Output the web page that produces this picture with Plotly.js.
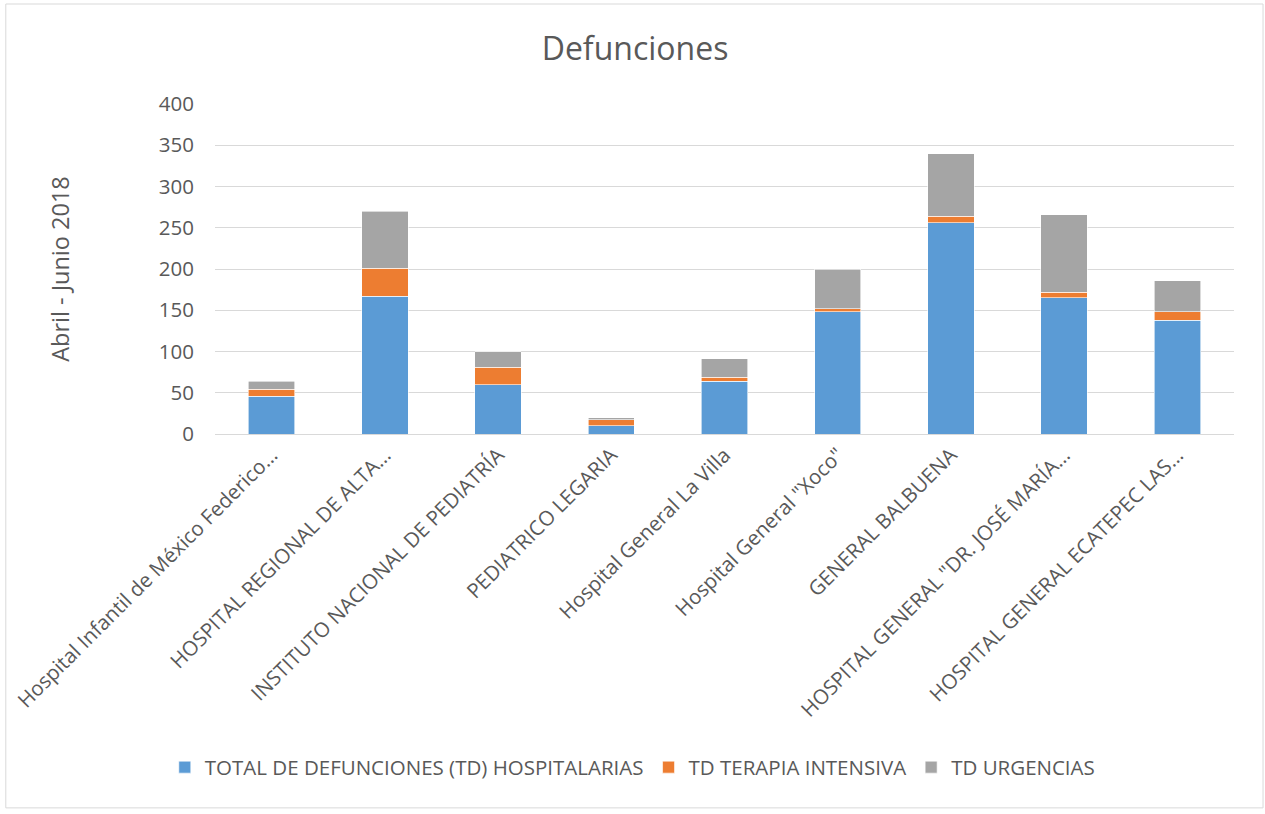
<!DOCTYPE html>
<html>
<head>
<meta charset="utf-8">
<script src="https://cdn.plot.ly/plotly-3.0.1.min.js"></script>
<style>html,body{margin:0;padding:0;background:#fff;}#chart{width:1265px;height:814px;}</style>
</head>
<body>
<div id="chart"></div>
<script>
const categories = [
  "Hospital Infantil de México Federico...",
  "HOSPITAL REGIONAL DE ALTA...",
  "INSTITUTO NACIONAL DE PEDIATRÍA",
  "PEDIATRICO LEGARIA",
  "Hospital General La Villa",
  "Hospital General \"Xoco\"",
  "GENERAL BALBUENA",
  "HOSPITAL GENERAL \"DR. JOSÉ MARÍA...",
  "HOSPITAL GENERAL ECATEPEC LAS..."
];
const totalHospitalarias = [46, 167, 60, 10, 64, 148, 256, 165, 138];
const terapiaIntensiva   = [8, 34, 21, 7, 5, 4, 8, 7, 10];
const urgencias          = [10, 69, 19, 3, 22, 48, 76, 94, 38];
const seriesNames = ["TOTAL DE DEFUNCIONES (TD) HOSPITALARIAS", "TD TERAPIA INTENSIVA", "TD URGENCIAS"];
const yTicks = [0, 50, 100, 150, 200, 250, 300, 350, 400];

const colors = ["#5B9BD5", "#ED7D31", "#A5A5A5"];
const font = "'Open Sans', Lato, sans-serif";
const data = [totalHospitalarias, terapiaIntensiva, urgencias].map((vals, i) => ({
  type: "bar",
  x: categories,
  y: vals,
  name: seriesNames[i],
  marker: {color: colors[i], line: {color: "#ffffff", width: 0.6}},
  hoverinfo: "x+y+name"
}));

const layout = {
  width: 1265, height: 814,
  barmode: "stack",
  bargap: 0.59,
  paper_bgcolor: "#fff",
  plot_bgcolor: "#fff",
  margin: {l: 215, r: 31, t: 104, b: 380},
  font: {family: font, color: "#595959"},
  title: {text: "Defunciones", font: {size: 32, color: "#595959", family: font}, x: 0.502, xanchor: "center", y: 0.94, yanchor: "middle"},
  xaxis: {
    tickangle: -45,
    tickfont: {size: 20.5, color: "#595959"},
    showline: true, linecolor: "#d9d9d9", linewidth: 1,
    ticks: "", showgrid: false, automargin: false
  },
  yaxis: {
    range: [0, 400],
    tickvals: yTicks,
    tickfont: {size: 20.5, color: "#595959"},
    showgrid: true, gridcolor: "#d9d9d9", gridwidth: 1,
    zeroline: false, showline: false, ticks: "",
    ticklabelstandoff: 20,
    title: {text: "Abril - Junio 2018", font: {size: 23.5, color: "#595959"}, standoff: 82},
    automargin: false
  },
  legend: {
    orientation: "h",
    x: 0.41, xanchor: "center",
    y: -1.01, yanchor: "middle",
    font: {size: 20.5, color: "#595959"},
    traceorder: "normal",
    itemwidth: 30
  },
  shapes: [{
    type: "rect", xref: "paper", yref: "paper",
    x0: -0.2053, x1: 1.0285, y0: -1.133, y1: 1.303,
    line: {color: "#d9d9d9", width: 1}
  }],
  showlegend: true
};

Plotly.newPlot("chart", data, layout, {displayModeBar: false});
</script>
</body>
</html>
